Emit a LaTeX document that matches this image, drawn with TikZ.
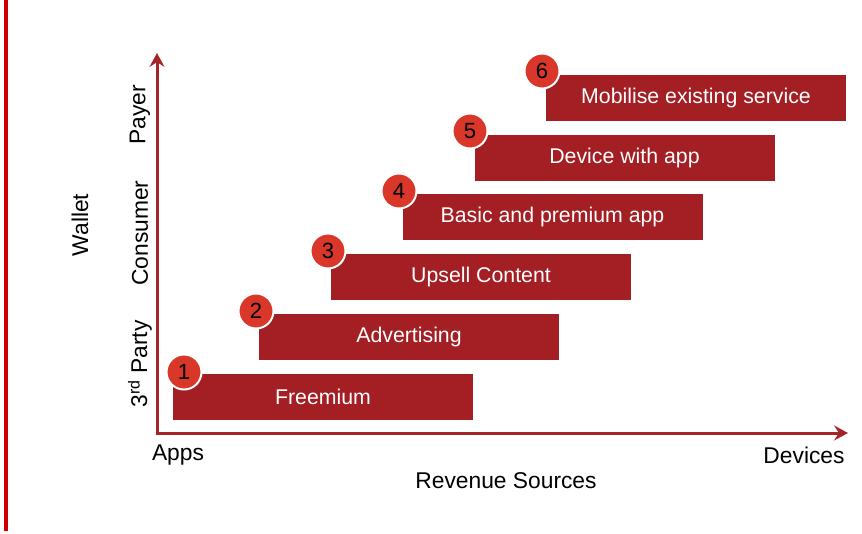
\documentclass[tikz,border=0pt]{standalone}
\usepackage{fontspec}
\setmainfont{Liberation Sans}
\usetikzlibrary{arrows.meta,positioning}

\definecolor{boxred}{HTML}{A31F24}
\definecolor{dotred}{HTML}{D8372A}
\definecolor{axisred}{HTML}{A52428}
\definecolor{barred}{HTML}{CC0000}

\tikzset{
  source/.style={fill=boxred,text=white,minimum width=300pt,minimum height=46pt,
    inner sep=0pt,font=\fontsize{21.3}{25}\selectfont},
  badge/.style={circle,fill=dotred,draw=white,line width=2pt,minimum size=35pt,
    inner sep=0pt,font=\fontsize{22}{26}\selectfont},
  axis/.style={draw=axisred,line width=3pt,-{Stealth[length=14pt,width=15pt,inset=5pt]}},
  axislabel/.style={font=\fontsize{22.8}{27}\selectfont,inner sep=0pt}
}

\begin{document}
\begin{tikzpicture}[x=1pt,y=-1pt]
  \useasboundingbox (0,0) rectangle (862,533);
  \fill[barred] (4,0) rectangle (8,531);

  % axes
  \coordinate (origin) at (157,433);
  \coordinate (ytip) at (157,53);
  \coordinate (xtip) at (848,433);
  \draw[axis] (157,434.5) -- (ytip);
  \draw[axis] (155.5,433) -- (xtip);

  % revenue sources
  \node[source] (s1) at (323,397) {Freemium};
  \node[source] (s2) at (409,337) {Advertising};
  \node[source] (s3) at (481,277) {Upsell Content};
  \node[source] (s4) at (552.5,217) {Basic and premium app};
  \node[source] (s5) at (624.5,158) {Device with app};
  \node[source] (s6) at (696,97.5) {Mobilise existing service};

  \node[badge] (n1) at (184,372) {1};
  \node[badge] (n2) at (256,311) {2};
  \node[badge] (n3) at (328,251) {3};
  \node[badge] (n4) at (399,191) {4};
  \node[badge] (n5) at (470,131) {5};
  \node[badge] (n6) at (542,71) {6};

  % labels
  \node[axislabel] (apps) at (178,455) {Apps};
  \node[axislabel] (devices) at (804,455) {Devices};
  \node[axislabel] (revenue) at (506,481) {Revenue Sources};
  \node[axislabel,rotate=90] (wallet) at (80,225) {Wallet};
  \node[axislabel,rotate=90] (payer) at (140,115) {Payer};
  \node[axislabel,rotate=90] (consumer) at (140,233) {Consumer};
  \node[axislabel,rotate=90] (third) at (140,364) {3\textsuperscript{rd} Party};
\end{tikzpicture}
\end{document}
